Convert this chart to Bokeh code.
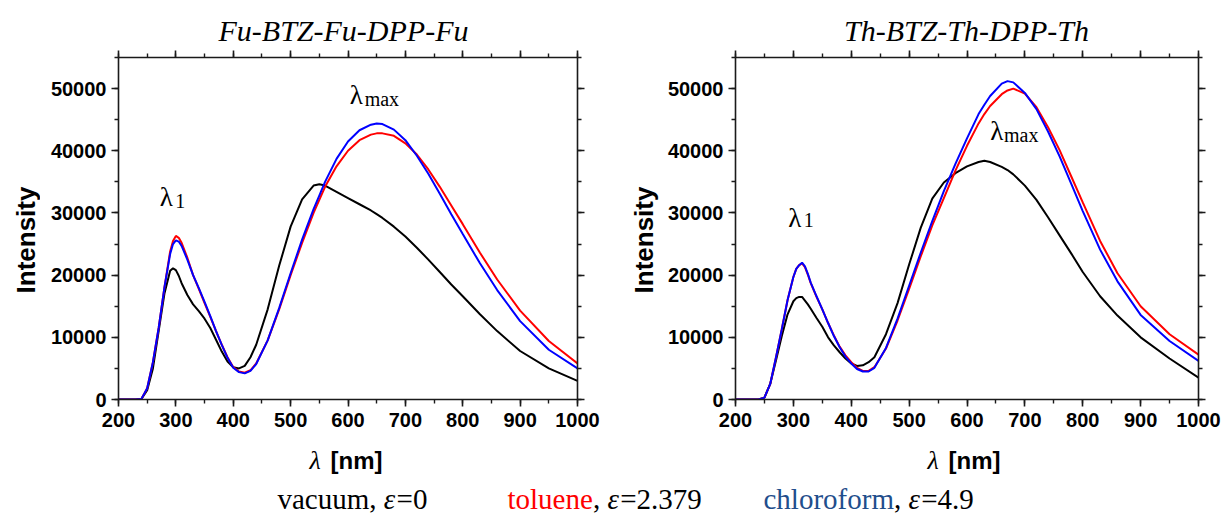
import math
from bokeh.plotting import figure
from bokeh.models import (Range1d, LinearAxis, SingleIntervalTicker, NumeralTickFormatter,
                          CustomJSTickFormatter, Label)
from bokeh.layouts import column, row
from bokeh.embed import file_html
from bokeh.resources import INLINE

# ---------------- data ----------------
wl_fu = [200, 230, 240, 250, 260, 270, 280, 290, 295, 300, 305, 310, 320, 330, 340, 350, 360, 370,
         380, 390, 400, 410, 420, 430, 440, 460, 480, 500, 520, 540, 550, 560, 580, 600, 620, 640,
         650, 660, 680, 700, 720, 740, 760, 780, 800, 830, 860, 900, 950, 1000]
fu_vacuum = [0, 0, 100, 1500, 5000, 11000, 17000, 20700, 21100, 20800, 19900, 18700, 16800, 15300,
             14200, 13000, 11500, 9600, 7700, 6100, 5200, 5000, 5400, 6800, 8800, 14500, 21500,
             27800, 32200, 34400, 34600, 34400, 33400, 32400, 31400, 30400, 29800, 29200, 27800,
             26200, 24400, 22500, 20500, 18500, 16600, 13700, 11000, 7800, 5000, 3000]
fu_toluene = [0, 0, 100, 1800, 6000, 11500, 18000, 23800, 25500, 26300, 26000, 25200, 22800, 20000,
              17800, 15500, 13300, 11000, 8800, 6800, 5200, 4500, 4300, 4700, 5800, 9500, 14500,
              20000, 25200, 30000, 32100, 34200, 37500, 40000, 41700, 42600, 42800, 42800, 42400,
              41200, 39400, 37000, 34200, 31200, 28200, 23600, 19300, 14300, 9400, 5800]
fu_chloroform = [0, 0, 100, 1800, 6000, 11500, 18000, 23400, 25000, 25600, 25400, 24700, 22500,
                 20000, 17900, 15700, 13400, 11000, 8800, 6700, 5100, 4400, 4200, 4600, 5700, 9500,
                 14700, 20300, 25700, 30600, 32800, 35000, 38700, 41500, 43300, 44200, 44400,
                 44300, 43400, 41700, 39200, 36300, 33100, 29800, 26600, 21900, 17600, 12600,
                 8000, 5000]

wl_th = [200, 230, 240, 250, 260, 270, 280, 290, 300, 305, 310, 315, 320, 325, 330, 340, 350, 360,
         370, 380, 390, 400, 410, 420, 430, 440, 460, 480, 500, 520, 540, 560, 580, 600, 620, 630,
         640, 660, 670, 680, 700, 720, 740, 760, 780, 800, 830, 860, 900, 950, 1000]
th_vacuum = [0, 0, 0, 300, 2500, 6300, 10200, 13700, 15800, 16300, 16500, 16500, 15900, 15300,
             14600, 13100, 11700, 10000, 8700, 7600, 6600, 5800, 5400, 5500, 6000, 6800, 10500,
             15500, 21700, 27600, 32300, 34900, 36400, 37500, 38200, 38400, 38200, 37400, 36900,
             36200, 34400, 32100, 29300, 26400, 23500, 20500, 16600, 13500, 10000, 6600, 3500]
th_toluene = [0, 0, 0, 300, 2500, 6800, 11300, 16000, 19700, 21000, 21600, 21900, 21300, 20100,
              18700, 16500, 14500, 12300, 10300, 8500, 7100, 6000, 5100, 4600, 4600, 5200, 8200,
              12700, 17800, 23000, 28000, 32400, 36800, 40800, 44400, 45900, 47200, 49100, 49700,
              50000, 49200, 47000, 43800, 40100, 35900, 31700, 25500, 20300, 15000, 10500, 7200]
th_chloroform = [0, 0, 0, 300, 2500, 6800, 11300, 16000, 19700, 21000, 21600, 22000, 21400, 20200,
                 18800, 16600, 14500, 12300, 10200, 8400, 6900, 5800, 4900, 4500, 4500, 5100, 8300,
                 13000, 18300, 23600, 28700, 33500, 37900, 42000, 45900, 47400, 48800, 50800,
                 51200, 51000, 49300, 46700, 43100, 39100, 34700, 30300, 24100, 19000, 13600, 9400,
                 6200]

titles = ["Fu-BTZ-Fu-DPP-Fu", "Th-BTZ-Th-DPP-Th"]
y_title = "Intensity"
solvents = ["vacuum", "toluene", "chloroform"]
eps_values = ["0", "2.379", "4.9"]
line_colors = ["#000000", "#ff0000", "#0000ff"]
legend_colors = ["#000000", "#ff0000", "#1f4e8c"]

SERIF = "Liberation Serif"
SANS = "Liberation Sans"
AX = "#1a1a1a"
W = 1224
TOP_H = 49
PANEL_H = 386
BOT_H = 516 - TOP_H - PANEL_H


def style_axis(ax, labels=True):
    ax.axis_line_color = AX
    ax.axis_line_width = 1.6
    ax.major_tick_line_color = AX
    ax.major_tick_line_width = 1.6
    ax.major_tick_out = 7
    ax.major_tick_in = 0
    ax.minor_tick_line_color = AX
    ax.minor_tick_line_width = 1.4
    ax.minor_tick_out = 4
    ax.minor_tick_in = 0
    if labels:
        ax.major_label_text_font = SANS
        ax.major_label_text_font_size = "20px"
        ax.major_label_text_font_style = "bold"
        ax.major_label_text_color = "#000000"
        ax.major_label_standoff = 5
    else:
        ax.formatter = CustomJSTickFormatter(code="return ''")
        ax.major_label_text_font_size = "1px"
        ax.major_label_standoff = 0


def text_fig(width, height):
    f = figure(width=width, height=height, x_range=Range1d(0, width),
               y_range=Range1d(height, 0), output_backend="svg", toolbar_location=None,
               x_axis_type=None, y_axis_type=None, min_border=0)
    f.outline_line_color = None
    f.grid.visible = False
    f.background_fill_color = "white"
    f.border_fill_color = "white"
    return f


def make_panel(width, wl, series, bl, br, bt, ann):
    p = figure(width=width, height=PANEL_H, x_range=Range1d(200, 1000),
               y_range=Range1d(0, 55000), output_backend="svg", toolbar_location=None,
               min_border_left=bl, min_border_right=br, min_border_top=bt,
               min_border_bottom=PANEL_H - bt - ann["frame_h"])
    p.outline_line_color = None
    p.xgrid.visible = False
    p.ygrid.visible = False
    p.background_fill_color = "white"
    p.border_fill_color = "white"

    xt = SingleIntervalTicker(interval=100, num_minor_ticks=2)
    yt = SingleIntervalTicker(interval=10000, num_minor_ticks=2)
    xa = p.xaxis[0]
    ya = p.yaxis[0]
    xa.ticker = xt
    ya.ticker = yt
    ya.formatter = NumeralTickFormatter(format="0")
    style_axis(xa)
    xa.major_label_standoff = 6
    style_axis(ya)

    top = LinearAxis(ticker=xt)
    style_axis(top, labels=False)
    p.add_layout(top, "above")
    right = LinearAxis(ticker=yt)
    style_axis(right, labels=False)
    p.add_layout(right, "right")

    for ys, c in zip(series, line_colors):
        p.line(wl, ys, line_color=c, line_width=2)

    for key, sub in (("l1", "1"), ("lmax", "max")):
        lx, ly, sx, sy = ann[key]
        p.add_layout(Label(x=lx, y=ly, text="λ", text_font=SERIF, text_font_size="27px",
                           text_align="left", text_baseline="alphabetic", text_color="#000000"))
        p.add_layout(Label(x=sx, y=sy, text=sub, text_font=SERIF, text_font_size="20px",
                           text_align="left", text_baseline="alphabetic", text_color="#000000"))
    return p


def y_label_fig(width, cx):
    f = text_fig(width, PANEL_H)
    f.add_layout(Label(x=cx, y=206, text=y_title, text_font=SANS, text_font_style="bold",
                       text_font_size="26px", text_align="center", text_baseline="middle",
                       angle=math.pi / 2, text_color="#000000"))
    return f


LAB1_W, LAB2_W = 40, 52
p1 = make_panel(612 - LAB1_W, wl_fu, [fu_vacuum, fu_toluene, fu_chloroform], 118 - LAB1_W, 35, 8,
                {"frame_h": 342, "l1": (272, 32600, 299, 32000),
                 "lmax": (603, 49000, 629, 48400)})
p2 = make_panel(612 - LAB2_W, wl_th, [th_vacuum, th_toluene, th_chloroform], 122 - LAB2_W, 26, 8,
                {"frame_h": 342, "l1": (291, 29200, 318, 28800),
                 "lmax": (640, 43100, 664, 42600)})
lab1 = y_label_fig(LAB1_W, 25)
lab2 = y_label_fig(LAB2_W, 31)

# ---------------- title row ----------------
top_fig = text_fig(W, TOP_H)
for t, cx in zip(titles, [343, 966]):
    top_fig.add_layout(Label(x=cx, y=30, text=t, text_font=SERIF, text_font_style="italic",
                             text_font_size="30px", text_align="center",
                             text_baseline="alphabetic", text_color="#000000"))

# ---------------- x labels + legend row ----------------
bot = text_fig(W, BOT_H)
for lx, nx in ((309, 330), (927, 948)):
    bot.add_layout(Label(x=lx, y=25, text="λ", text_font=SERIF, text_font_style="italic",
                         text_font_size="26px", text_align="left", text_baseline="alphabetic",
                         text_color="#000000"))
    bot.add_layout(Label(x=nx, y=25, text="[nm]", text_font=SANS, text_font_style="bold",
                         text_font_size="24px", text_align="left", text_baseline="alphabetic",
                         text_color="#000000"))

TW = {'v': 500, 'a': 444, 'c': 444, 'u': 500, 'm': 778, ',': 250, ' ': 250, 't': 278, 'o': 500,
      'l': 278, 'e': 444, 'n': 500, 'h': 500, 'r': 333, 'f': 333, '=': 564, '.': 250}
FS = 29


def tw(s):
    return sum(TW.get(ch, 500) for ch in s) * FS / 1000.0


starts = [277, 507, 763]
base_y = 63
for name, ev, col, x0 in zip(solvents, eps_values, legend_colors, starts):
    x = x0
    bot.add_layout(Label(x=x, y=base_y, text=name, text_font=SERIF, text_font_size=f"{FS}px",
                         text_color=col, text_align="left", text_baseline="alphabetic"))
    x += tw(name)
    bot.add_layout(Label(x=x, y=base_y, text=",", text_font=SERIF, text_font_size=f"{FS}px",
                         text_color="#000000", text_align="left", text_baseline="alphabetic"))
    x += tw(", ")
    bot.add_layout(Label(x=x, y=base_y, text="ε", text_font=SERIF, text_font_style="italic",
                         text_font_size=f"{FS}px", text_color="#000000", text_align="left",
                         text_baseline="alphabetic"))
    x += 0.44 * FS
    bot.add_layout(Label(x=x, y=base_y, text="=" + ev, text_font=SERIF, text_font_size=f"{FS}px",
                         text_color="#000000", text_align="left", text_baseline="alphabetic"))

layout = column(top_fig, row(lab1, p1, lab2, p2), bot)
open("out.html", "w").write(file_html(layout, INLINE))
